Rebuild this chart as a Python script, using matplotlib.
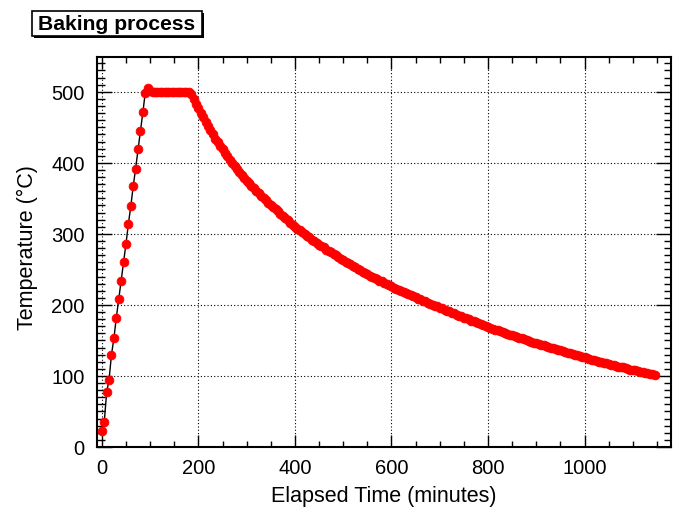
import numpy as np
import matplotlib
matplotlib.use("Agg")
import matplotlib.pyplot as plt
from matplotlib.patches import Rectangle
from matplotlib.ticker import MultipleLocator

plt.rcParams['font.family'] = ['Liberation Sans', 'DejaVu Sans']

# ---- data (temperature in deg C, sampled every 5 minutes) ----
sample_step_min = 5
heat_temp = [23, 35, 77, 95, 130, 153, 182, 208, 234, 261, 286, 314, 339, 367,
             392, 419, 445, 471, 499, 506]
hold_temp = [501, 500, 500, 500, 500, 500, 500, 500, 500, 500, 500, 500, 500,
             500, 500, 500, 500]
cool_temp = [497, 490, 483, 477, 470, 464, 458, 452, 446, 440, 434, 429, 424, 419,
             414, 409, 404, 400, 395, 391, 387, 383, 379, 375,
             371, 368, 364, 361, 357, 354, 351, 347, 344, 341, 338, 335, 332, 328,
             325, 322, 319, 316, 313, 310,
             307, 305, 302, 300, 297, 295, 292, 290, 287, 285, 283, 281, 278, 276,
             274, 272, 270, 267, 265, 263,
             261, 259, 257, 255, 253, 251, 249, 247, 245, 243, 241, 240, 238, 236,
             234, 233, 231, 229, 228, 226,
             224, 223, 221, 220, 218, 217, 215, 214, 212, 211, 209, 208, 206, 205,
             203, 202, 200, 199, 198, 196,
             195, 193, 192, 191, 189, 188, 186, 185, 184, 182, 181, 180, 178, 177,
             176, 174, 173, 172, 170, 169,
             168, 166, 165, 164, 163, 162, 161, 159, 158, 157, 156, 155, 154, 153,
             152, 150, 149, 148, 147, 146,
             145, 144, 143, 142, 141, 140, 139, 138, 137, 136, 135, 134, 133, 132,
             131, 130, 129, 128, 127, 126,
             125, 124, 123, 122, 121, 120, 119, 118, 118, 117, 116, 115, 114, 113,
             112, 112, 111, 110, 109, 108,
             108, 107, 106, 105, 104, 104, 103, 103, 102]

temps = np.array(heat_temp + hold_temp + cool_temp, dtype=float)
times = sample_step_min * np.arange(len(temps))

x_ticks = [0, 200, 400, 600, 800, 1000]
y_ticks = [0, 100, 200, 300, 400, 500]

title_text = "Baking process"
x_label = "Elapsed Time (minutes)"
y_label = "Temperature (\u00b0C)"

# ---- figure ----
W, H = 683, 510
fig = plt.figure(figsize=(W / 100, H / 100), dpi=100)
L, R, B, T = 97, 671, 448, 58
ax = fig.add_axes([L / W, 1 - B / H, (R - L) / W, (B - T) / H])

ax.plot(times, temps, color='black', lw=1.0, zorder=2)
ax.plot(times, temps, ls='none', marker='o', ms=6.3, mfc='#ff0000',
        mec='#ff0000', mew=0.6, zorder=3)

ax.set_xlim(-10, 1179)
ax.set_ylim(0, 549)
ax.set_xticks(x_ticks)
ax.set_yticks(y_ticks)
ax.xaxis.set_minor_locator(MultipleLocator(50))
ax.yaxis.set_minor_locator(MultipleLocator(10))
ax.tick_params(axis='both', which='both', direction='in', top=True, right=True,
               width=1.0, labelsize=14.5, colors='black')
ax.tick_params(axis='x', which='major', length=12 * 0.72, pad=8)
ax.tick_params(axis='x', which='minor', length=6 * 0.72)
ax.tick_params(axis='y', which='major', length=15 * 0.72, pad=9)
ax.tick_params(axis='y', which='minor', length=7.5 * 0.72)
for s in ax.spines.values():
    s.set_linewidth(1.5)
    s.set_color('black')
ax.grid(True, which='major', color='black', lw=0.8, ls=(0, (1, 2)))
ax.set_axisbelow(True)

fig.text(384 / W, 1 - 497 / H, x_label, ha='center', va='center', fontsize=15.5)
fig.text(27 / W, 1 - 248 / H, y_label, ha='center', va='center', fontsize=15.5,
         rotation=90)

# title box with shadow
bx0, by0, bx1, by1 = 32, 12, 202, 37
fig.patches.append(Rectangle(((bx0 + 2) / W, 1 - (by1 + 2) / H), (bx1 - bx0) / W,
                             (by1 - by0) / H, transform=fig.transFigure,
                             facecolor='black', edgecolor='black', lw=0))
fig.patches.append(Rectangle((bx0 / W, 1 - by1 / H), (bx1 - bx0) / W,
                             (by1 - by0) / H, transform=fig.transFigure,
                             facecolor='white', edgecolor='black', lw=1.2))
fig.text((bx0 + bx1) / 2 / W, 1 - (by0 + by1) / 2 / H, title_text, ha='center',
         va='center', fontsize=15.2, fontweight='bold')

fig.savefig("out.png", dpi=100)
